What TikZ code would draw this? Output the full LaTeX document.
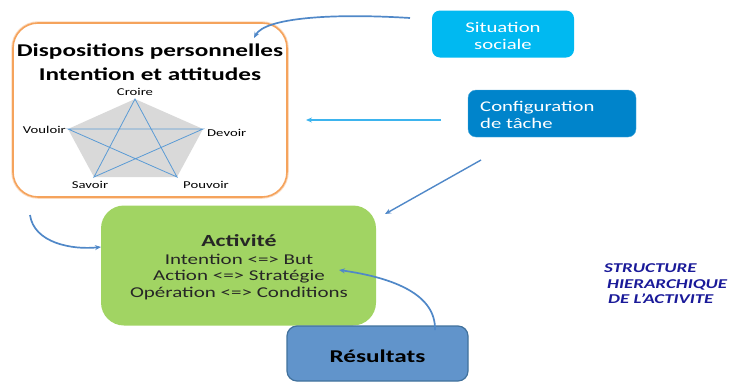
\documentclass[tikz,border=0pt]{standalone}
\usepackage{fontspec}
\setmainfont{Carlito}[FakeStretch=1.4]
\usetikzlibrary{arrows.meta}
\definecolor{orangeb}{HTML}{F5A35C}
\definecolor{pentgrey}{HTML}{D9D9D9}
\definecolor{starblue}{HTML}{5B9BD5}
\definecolor{sitblue}{HTML}{00B9F1}
\definecolor{confblue}{HTML}{0084CB}
\definecolor{actgreen}{HTML}{A1D463}
\definecolor{resblue}{HTML}{6194CB}
\definecolor{resborder}{HTML}{41719C}
\definecolor{arrblue}{HTML}{5088C8}
\definecolor{arrcyan}{HTML}{3DB4EE}
\definecolor{navy}{HTML}{1A1A99}
\tikzset{
  box/.style={draw=none, inner sep=0pt},
  conn/.style={draw=arrblue, line width=1.7pt, -{Stealth[length=6pt,width=5pt]}},
  lbl/.style={inner sep=0pt, anchor=base},
  penlbl/.style={lbl, font=\fontsize{10.5}{12}\selectfont},
  wlbl/.style={lbl, text=white, font=\fontsize{14.8}{17}\selectfont},
  actlbl/.style={lbl, text=black!85, font=\fontsize{15}{17}\selectfont},
  navylbl/.style={lbl, anchor=base west, text=navy, font=\bfseries\itshape\fontsize{13.5}{15}\selectfont}
}
\begin{document}
\begin{tikzpicture}[x=1pt,y=-1pt]
\useasboundingbox (0,0) rectangle (733,381);
% boxes
\node[box, draw=orangeb!40, line width=3.5pt, rounded corners=25pt,
  minimum width=274pt, minimum height=174pt] (dispglow) at (150,110) {};
\node[box, draw=orangeb, line width=1.6pt, fill=white, rounded corners=25pt,
  minimum width=274pt, minimum height=174pt] (disp) at (150,110) {};
\node[box, fill=sitblue, rounded corners=8pt, minimum width=142pt, minimum height=47pt] (sit) at (503,34) {};
\node[box, fill=confblue, draw=confblue!70!white, rounded corners=8pt, minimum width=168pt, minimum height=47pt] (conf) at (552,113.5) {};
\node[box, fill=actgreen, rounded corners=23pt, minimum width=275pt, minimum height=120pt] (act) at (238.5,265.5) {};
\node[box, fill=resblue, draw=resborder, line width=1.2pt, rounded corners=10pt, minimum width=181pt, minimum height=55pt] (res) at (377.5,353.5) {};
% titles
\node[lbl, font=\bfseries\fontsize{18}{24}\selectfont] (t1) at (150,56) {Dispositions personnelles};
\node[lbl, font=\bfseries\fontsize{18}{24}\selectfont] (t2) at (150,80) {Intention et attitudes};
% pentagon
\coordinate (pc) at (135,99);
\coordinate (pd) at (203,129);
\coordinate (pp) at (177,177);
\coordinate (ps) at (94,177);
\coordinate (pv) at (68,129);
\fill[pentgrey] (pc) -- (pd) -- (pp) -- (ps) -- (pv) -- cycle;
\draw[starblue, line width=0.8pt] (pc) -- (ps) -- (pd) -- (pv) -- (pp) -- cycle;
\node[penlbl] (lc) at (135,95) {Croire};
\node[penlbl, anchor=base east] (lv) at (66,133) {Vouloir};
\node[penlbl, anchor=base west] (ld) at (207,136) {Devoir};
\node[penlbl] (ls) at (90,188) {Savoir};
\node[penlbl] (lp) at (206,188) {Pouvoir};
% situation / configuration
\node[wlbl] (s1) at (503,32) {Situation};
\node[wlbl] (s2) at (503,49) {sociale};
\node[wlbl, anchor=base west] (c1) at (480,111) {Configuration};
\node[wlbl, anchor=base west] (c2) at (480,128) {de tâche};
% activite
\node[lbl, text=black!85, font=\bfseries\fontsize{17}{20}\selectfont] (a0) at (239,246.5) {Activité};
\node[actlbl] (a1) at (239,264) {Intention <=> But};
\node[actlbl] (a2) at (239,280.5) {Action <=> Stratégie};
\node[actlbl] (a3) at (239,297) {Opération <=> Conditions};
% resultats
\node[lbl, font=\bfseries\fontsize{18}{20}\selectfont] (r0) at (377.5,362) {Résultats};
% structure text
\node[navylbl] (n1) at (604,272) {STRUCTURE};
\node[navylbl] (n2) at (607,288) {HIERARCHIQUE};
\node[navylbl] (n3) at (608,303) {DE L’ACTIVITE};
% connectors
\coordinate (e1s) at (410,18);
\coordinate (e1e) at (254,38);
\draw[conn] (e1s) .. controls (330,13) and (265,18) .. (e1e);
\coordinate (e2s) at (441,120);
\coordinate (e2e) at (306,120);
\draw[conn, draw=arrcyan, line width=1.4pt] (e2s) -- (e2e);
\coordinate (e3s) at (481,160);
\coordinate (e3e) at (385,214);
\draw[conn, line width=1.4pt] (e3s) -- (e3e);
\coordinate (e4s) at (30,215);
\coordinate (e4e) at (101,247);
\draw[conn] (e4s) .. controls (34,243) and (72,250) .. (e4e);
\coordinate (e5s) at (435,330);
\coordinate (e5e) at (339,270);
\draw[conn] (e5s) .. controls (436,295) and (395,278) .. (e5e);
\end{tikzpicture}
\end{document}
